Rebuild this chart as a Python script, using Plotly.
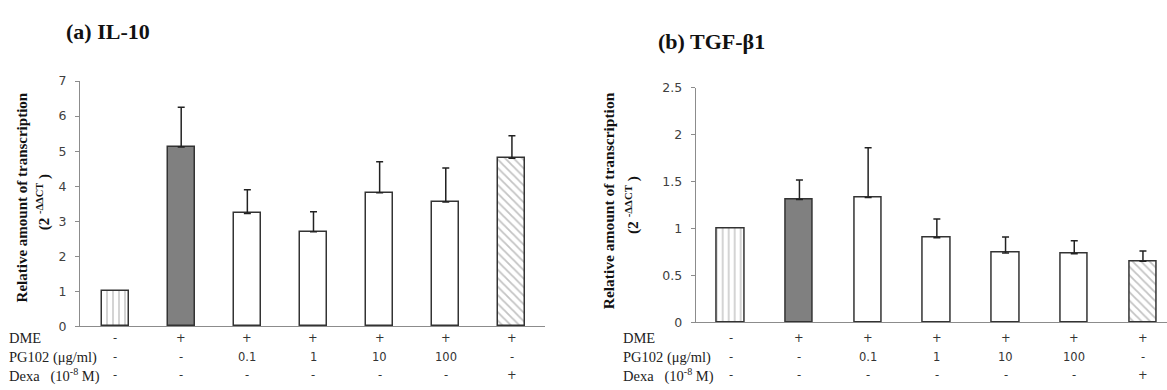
import plotly.graph_objects as go

categories = ["Control", "DME", "PG102 0.1", "PG102 1", "PG102 10", "PG102 100", "Dexa"]
il10_values = [1.00, 5.12, 3.22, 2.70, 3.81, 3.55, 4.80]
il10_errors = [None, 1.13, 0.68, 0.57, 0.89, 0.97, 0.64]
tgf_values = [1.00, 1.307, 1.33, 0.90, 0.74, 0.73, 0.65]
tgf_errors = [None, 0.21, 0.53, 0.20, 0.17, 0.14, 0.11]

row_labels = ["DME", "PG102 (μg/ml)", "Dexa&nbsp;&nbsp;&nbsp;(10<sup>-8</sup> M)"]
dme_row = ["-", "+", "+", "+", "+", "+", "+"]
pg102_row = ["-", "-", "0.1", "1", "10", "100", "-"]
dexa_row = ["-", "-", "-", "-", "-", "-", "+"]

il10_ticks = [0, 1, 2, 3, 4, 5, 6, 7]
tgf_ticks = [0, 0.5, 1, 1.5, 2, 2.5]
tgf_ticktext = ["0", "0.5", "1", "1.5", "2", "2.5"]

W, H = 1167, 390
xpos = list(range(len(categories)))

# style groups: index lists per bar style
styles = [
    dict(idx=[0], color="white", shape="|", fg="#a0a0a0"),
    dict(idx=[1], color="#808080", shape="", fg=None),
    dict(idx=[2, 3, 4, 5], color="white", shape="", fg=None),
    dict(idx=[6], color="white", shape="\\", fg="#888888"),
]

fig = go.Figure()
for vals, errs, xa, ya, width in [(il10_values, il10_errors, "x", "y", 0.41),
                                  (tgf_values, tgf_errors, "x2", "y2", 0.40)]:
    for st in styles:
        xs = [xpos[i] for i in st["idx"]]
        ys = [vals[i] for i in st["idx"]]
        es = [errs[i] if errs[i] is not None else 0 for i in st["idx"]]
        has_err = any(errs[i] is not None for i in st["idx"])
        marker = dict(color=st["color"], line=dict(color="#333333", width=1.5))
        if st["shape"]:
            marker["pattern"] = dict(shape=st["shape"], fgcolor=st["fg"],
                                     bgcolor="white", size=6, solidity=0.3,
                                     fillmode="overlay")
        fig.add_trace(go.Bar(
            x=xs, y=ys, xaxis=xa, yaxis=ya, width=width, marker=marker,
            error_y=dict(type="data", symmetric=False, array=es,
                         color="#222222", thickness=1.5, width=3.5,
                         visible=has_err),
            showlegend=False, hoverinfo="skip"))

tickfont = dict(family="DejaVu Sans", size=12.5, color="#404040")
axis_common = dict(showline=True, linecolor="#8c8c8c", linewidth=1,
                   showgrid=False, zeroline=False)

fig.update_layout(
    width=W, height=H, margin=dict(l=0, r=0, t=0, b=0),
    paper_bgcolor="white", plot_bgcolor="white", bargap=0, barmode="overlay",
    xaxis=dict(domain=[80 / W, 545 / W], range=[-0.53, 6.5],
               showticklabels=False, ticks="", anchor="y", **axis_common),
    yaxis=dict(domain=[(H - 331) / H, (H - 76) / H], range=[0, 7],
               tickvals=il10_ticks, ticks="outside", ticklen=4,
               tickcolor="#8c8c8c", tickfont=tickfont, ticklabelstandoff=6,
               anchor="x", **axis_common),
    xaxis2=dict(domain=[695.7 / W, 1.0], range=[-0.51, 6.35],
                showticklabels=False, ticks="", anchor="y2", **axis_common),
    yaxis2=dict(domain=[(H - 327) / H, (H - 82.7) / H], range=[0, 2.5],
                tickvals=tgf_ticks, ticktext=tgf_ticktext, ticks="outside",
                ticklen=4, tickcolor="#8c8c8c", tickfont=tickfont,
                ticklabelstandoff=6, anchor="x2", **axis_common),
)

serif = "Liberation Serif"
ann = []
ann.append(dict(text="<b>(a) IL-10</b>", xref="paper", yref="paper",
                x=64 / W, y=(H - 24) / H, xanchor="left", yanchor="middle",
                showarrow=False, font=dict(family=serif, size=22, color="#111")))
ann.append(dict(text="<b>(b) TGF-β1</b>", xref="paper", yref="paper",
                x=656 / W, y=(H - 35) / H, xanchor="left", yanchor="middle",
                showarrow=False, font=dict(family=serif, size=22, color="#111")))

for (x1, y1, x2, y2, fs) in [(22, 197, 43, 202, 15), (608, 201, 632, 205, 15.5)]:
    ann.append(dict(text="<b>Relative amount of transcription</b>", xref="paper",
                    yref="paper", x=x1 / W, y=(H - y1) / H, xanchor="center",
                    yanchor="middle", textangle=-90, showarrow=False,
                    font=dict(family=serif, size=fs, color="#111")))
    ann.append(dict(text="<b>(2 <sup>-ΔΔCT</sup> )</b>", xref="paper",
                    yref="paper", x=x2 / W, y=(H - y2) / H, xanchor="center",
                    yanchor="middle", textangle=-90, showarrow=False,
                    font=dict(family=serif, size=fs, color="#111")))

row_y = [343, 363, 382]
rows = [dme_row, pg102_row, dexa_row]
for xref, lab_x in [("x", 7), ("x2", 621)]:
    for ry, lab, row in zip(row_y, row_labels, rows):
        ann.append(dict(text=lab, xref="paper", yref="paper", x=lab_x / W,
                        y=(H - ry) / H, xanchor="left", yanchor="middle",
                        showarrow=False,
                        font=dict(family=serif, size=14.5, color="#222")))
        for xi, t in zip(xpos, row):
            ann.append(dict(text=t, xref=xref, yref="paper", x=xi,
                            y=(H - ry) / H, xanchor="center", yanchor="middle",
                            showarrow=False,
                            font=dict(family="DejaVu Sans", size=11.5, color="#333")))

fig.update_layout(annotations=ann)
fig.write_html("out.html", config={"displayModeBar": False},
               post_script="document.body.style.margin='0';document.body.style.overflow='hidden';")
